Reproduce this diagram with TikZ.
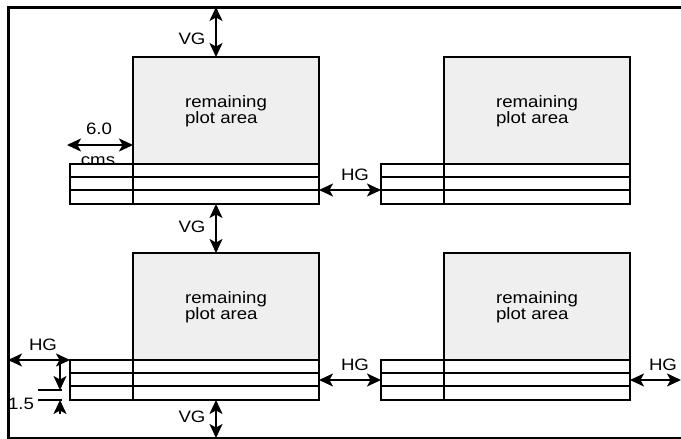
\documentclass[tikz,border=0pt]{standalone}
\usepackage{fontspec}
\setmainfont{Liberation Sans}[FakeStretch=1.13]
\usetikzlibrary{arrows.meta}
\definecolor{plotgrey}{RGB}{239,239,239}
\tikzset{
  gap/.style={line width=1.8pt,{Stealth[length=14pt,width=13pt,inset=3.5pt]}-{Stealth[length=14pt,width=13pt,inset=3.5pt]}},
  tick/.style={line width=1.8pt,-{Stealth[length=14pt,width=13pt,inset=3.5pt]}},
  lbl/.style={font=\fontsize{16.5}{14}\selectfont,inner sep=0pt},
  box/.style={line width=2.4pt}
}

\begin{document}
\begin{tikzpicture}[x=1pt,y=-1pt]
  \useasboundingbox (0,0) rectangle (681,439);
  % frame, open on the right
  \draw[line width=3pt] (681,7) -- (8,7) -- (8,438) -- (681,438);
  \coordinate (f-top) at (216,7);
  \coordinate (f-bot) at (216,438);
  \coordinate (f-left) at (8,360);
  \coordinate (f-right) at (681,380);
  % partly hidden below the strip
  \node[lbl] (cms) at (98,161.5) {cms};
  \foreach \px/\py/\hy/\nm in {70/57/133/a,381/57/133/b,70/253/127/c,381/253/127/d} {
    \draw[box,fill=plotgrey] (\px+63,\py) rectangle (\px+249,\py+107);
    \draw[box,fill=white] (\px,\py+107) rectangle (\px+249,\py+147);
    \foreach \r in {120,133}
      \draw[box] (\px,\py+\r) -- (\px+249,\py+\r);
    \draw[box] (\px+63,\py+107) -- (\px+63,\py+147);
    \node[lbl,align=left] (area-\nm) at (\px+156,\py+54) {remaining\\plot area};
    \coordinate (\nm-vg) at (\px+146,\py);
    \coordinate (\nm-vgb) at (\px+146,\py+147);
    \coordinate (\nm-hgl) at (\px,\py+\hy);
    \coordinate (\nm-hgr) at (\px+249,\py+\hy);
    \coordinate (\nm-pl) at (\px+63,\py+88);
    \coordinate (\nm-sl) at (\px,\py+107);
  }
  % gaps
  \draw[gap] (f-top) -- (a-vg);
  \draw[gap] (a-vgb) -- (c-vg);
  \draw[gap] (c-vgb) -- (f-bot);
  \draw[gap] (a-hgr) -- (b-hgl);
  \draw[gap] (c-hgr) -- (d-hgl);
  \draw[gap] (d-hgr) -- (f-right);
  \draw[gap] (f-left) -- (c-sl);
  \coordinate (w-left) at (67,145);
  \draw[gap] (w-left) -- (a-pl);
  % row height marker
  \coordinate (m-top) at (60,360);
  \coordinate (m-a) at (60,390);
  \coordinate (m-b) at (60,400);
  \coordinate (m-bot) at (60,414);
  \draw[tick] (m-top) -- (m-a);
  \draw[tick] (m-bot) -- (m-b);
  \draw[line width=1.8pt] (38,390) -- (62,390) (38,400) -- (62,400);
  % labels
  \node[lbl] (vg1) at (192,39) {VG};
  \node[lbl] (vg2) at (192,227) {VG};
  \node[lbl] (vg3) at (192,417) {VG};
  \node[lbl] (wd) at (99,129) {6.0};
  \node[lbl] (hg1) at (355,174.5) {HG};
  \node[lbl] (hg2) at (43,345) {HG};
  \node[lbl] (hg3) at (355,365) {HG};
  \node[lbl] (hg4) at (663,365) {HG};
  \node[lbl] (rh) at (21,404) {1.5};
\end{tikzpicture}
\end{document}
